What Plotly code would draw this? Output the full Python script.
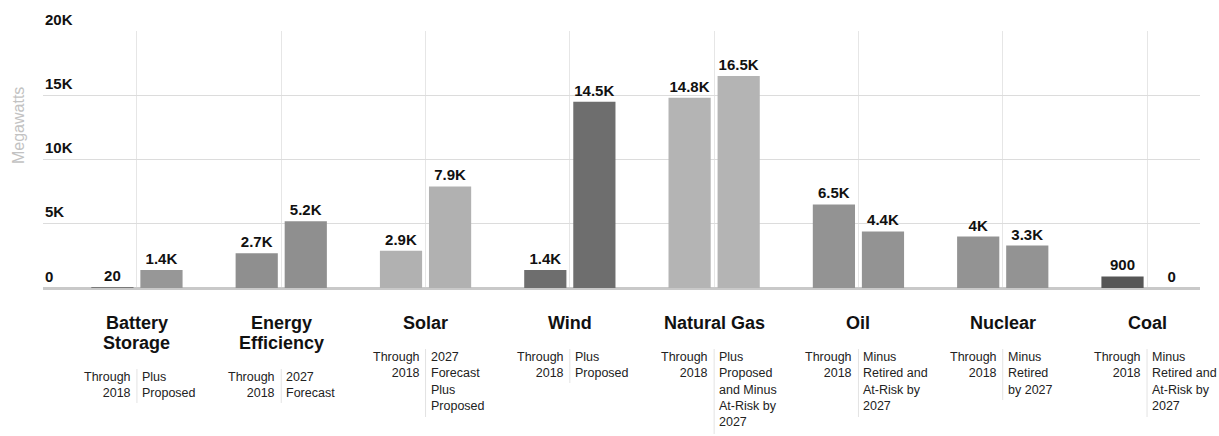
import plotly.graph_objects as go

# Capacity by energy source, in megawatts
categories = ["Battery Storage", "Energy Efficiency", "Solar", "Wind",
              "Natural Gas", "Oil", "Nuclear", "Coal"]
title_lines = [["Battery", "Storage"], ["Energy", "Efficiency"], ["Solar"], ["Wind"],
               ["Natural Gas"], ["Oil"], ["Nuclear"], ["Coal"]]
through_2018 = [20, 2700, 2900, 1400, 14800, 6500, 4000, 900]
outlook_2027 = [1400, 5200, 7900, 14500, 16500, 4400, 3300, 0]
left_caption = "Through<br>2018"
right_captions = ["Plus<br>Proposed",
                  "2027<br>Forecast",
                  "2027<br>Forecast<br>Plus<br>Proposed",
                  "Plus<br>Proposed",
                  "Plus<br>Proposed<br>and Minus<br>At-Risk by<br>2027",
                  "Minus<br>Retired and<br>At-Risk by<br>2027",
                  "Minus<br>Retired<br>by 2027",
                  "Minus<br>Retired and<br>At-Risk by<br>2027"]
y_ticks = [0, 5000, 10000, 15000, 20000]
y_tick_labels = ["0", "5K", "10K", "15K", "20K"]

# One grey shade per source
colors = ["#8c8c8c", "#8f8f8f", "#b1b1b1", "#6e6e6e",
          "#b4b4b4", "#939393", "#939393", "#565656"]
colors_first = list(colors)
colors_first[0] = "#7a7a7a"
colors_second = list(colors)
colors_second[0] = "#979797"


def fmt(v):
    if v >= 1000:
        return f"{v / 1000:g}K"
    return str(v)


FONT = "Liberation Sans, Arial, sans-serif"
W, H = 1219, 436
M_L, M_R, M_T, M_B = 43, 19, 31, 148
PLOT_H = H - M_T - M_B
ZERO_Y = H - M_B


def py(pixel_y):
    # convert a page pixel row to paper coordinates
    return (ZERO_Y - pixel_y) / PLOT_H


fig = go.Figure()
for vals, cols in ((through_2018, colors_first), (outlook_2027, colors_second)):
    fig.add_trace(go.Bar(
        x=categories, y=vals,
        marker=dict(color=cols, line=dict(width=0)),
        text=[fmt(v) for v in vals], textposition="outside",
        textfont=dict(family=FONT, size=15, color="#111111", weight="bold"),
        cliponaxis=False, hoverinfo="skip",
    ))

annotations = [dict(
    text="Megawatts", textangle=-90, xref="paper", yref="paper",
    x=-(M_L - 18) / (W - M_L - M_R), y=py(126), xanchor="center", yanchor="middle",
    showarrow=False, font=dict(family=FONT, size=16, color="#c2c2c2"),
)]
# y tick labels sit just above their gridlines
for val, lab in zip(y_ticks, y_tick_labels):
    annotations.append(dict(
        text=lab, xref="paper", yref="y", x=0, y=val, yshift=12,
        xanchor="left", yanchor="middle", showarrow=False,
        font=dict(family=FONT, size=15, color="#111111", weight="bold"),
    ))

shapes = []
for i, lines in enumerate(title_lines):
    for j, line in enumerate(lines):
        annotations.append(dict(
            text=line, xref="x", yref="paper", x=i, y=py(323 + 20 * j),
            xanchor="center", yanchor="middle", showarrow=False,
            font=dict(family=FONT, size=18, color="#111111", weight="bold"),
        ))
    first_line = 323 + 20 * (len(lines) - 1) + 35
    top = first_line - 10
    annotations.append(dict(
        text=left_caption, xref="x", yref="paper", x=i, y=py(top),
        xanchor="right", yanchor="top", align="right", xshift=-4,
        showarrow=False, font=dict(family=FONT, size=12.5, color="#222222"),
    ))
    annotations.append(dict(
        text=right_captions[i], xref="x", yref="paper", x=i, y=py(top),
        xanchor="left", yanchor="top", align="left", xshift=3,
        showarrow=False, font=dict(family=FONT, size=12.5, color="#222222"),
    ))
    n_lines = right_captions[i].count("<br>") + 1
    shapes.append(dict(
        type="line", xref="x", yref="paper", x0=i, x1=i,
        y0=py(top + 1), y1=py(top + 17 * n_lines + 1),
        line=dict(color="#e3e3e3", width=1),
    ))

fig.update_layout(
    width=W, height=H,
    margin=dict(l=M_L, r=M_R, t=M_T, b=M_B, pad=0),
    paper_bgcolor="white", plot_bgcolor="white",
    barmode="group", bargap=0.32, bargroupgap=0.14,
    showlegend=False,
    annotations=annotations, shapes=shapes,
    xaxis=dict(
        range=[-0.651, 7.367], showticklabels=False, ticks="",
        showgrid=True, gridcolor="#e6e6e6", gridwidth=1,
        showline=False, zeroline=False, fixedrange=True,
    ),
    yaxis=dict(
        range=[0, 20000], tickvals=y_ticks, showticklabels=False, ticks="",
        showgrid=True, gridcolor="#dcdcdc", gridwidth=1,
        zeroline=True, zerolinecolor="#c9c9c9", zerolinewidth=3,
        showline=False, fixedrange=True,
    ),
)

fig.write_html("out.html")
